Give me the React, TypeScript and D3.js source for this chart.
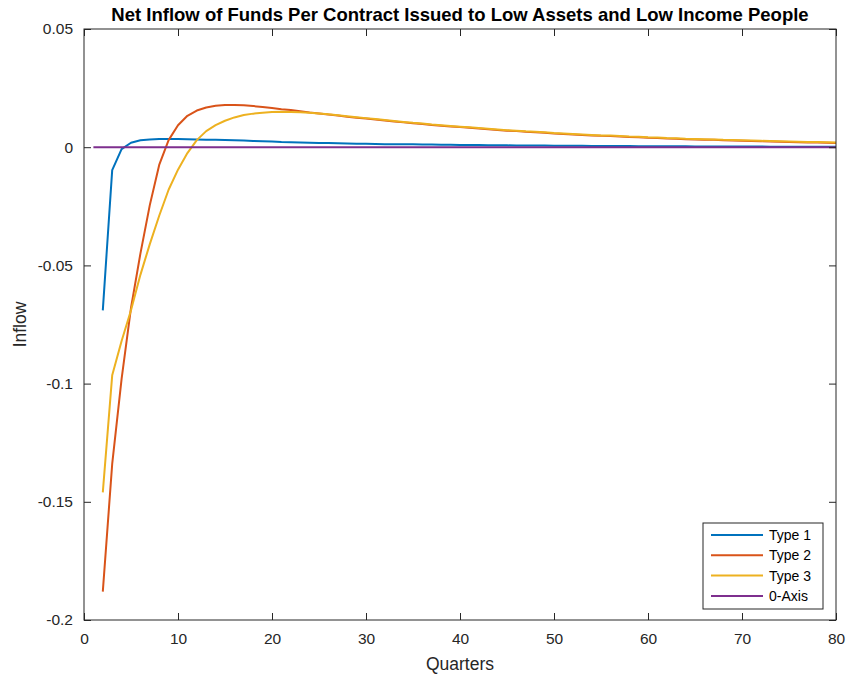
import { useRef, useEffect } from "react";
import * as d3 from "d3";

// quarters 2..80 for the three contract types, the 0-axis runs from 1 to 80
const quarters = d3.range(2, 81);

const type1 = [
  -0.069, -0.0097, -0.0008, 0.0019, 0.0029, 0.0033, 0.0035, 0.0035, 0.0035, 0.0034,
  0.0033, 0.0032, 0.0031, 0.0030, 0.0029, 0.0028, 0.0026, 0.0025, 0.0024, 0.0022,
  0.0021, 0.0020, 0.0019, 0.0018, 0.0018, 0.0017, 0.0016, 0.0015, 0.0015, 0.0014,
  0.0013, 0.0013, 0.0012, 0.0012, 0.0011, 0.0011, 0.0010, 0.0010, 0.0009, 0.0009,
  0.0009, 0.0008, 0.0008, 0.0008, 0.0007, 0.0007, 0.0007, 0.0007, 0.0006, 0.0006,
  0.0006, 0.0006, 0.0005, 0.0005, 0.0005, 0.0005, 0.0005, 0.0004, 0.0004, 0.0004,
  0.0004, 0.0004, 0.0004, 0.0003, 0.0003, 0.0003, 0.0003, 0.0003, 0.0003, 0.0003,
  0.0003, 0.0002, 0.0002, 0.0002, 0.0002, 0.0002, 0.0002, 0.0002, 0.0002,
];

const type2 = [
  -0.188, -0.134, -0.098, -0.068, -0.045, -0.0245, -0.0075, 0.003, 0.0093, 0.0133,
  0.0155, 0.0168, 0.0175, 0.0178, 0.0178, 0.0177, 0.0174, 0.017, 0.0166, 0.0161,
  0.0157, 0.0152, 0.0147, 0.0143, 0.0138, 0.0134, 0.0129, 0.0125, 0.0121, 0.0117,
  0.0113, 0.0109, 0.0105, 0.0101, 0.0098, 0.0094, 0.0091, 0.0088, 0.0085, 0.0082,
  0.0079, 0.0076, 0.0073, 0.007, 0.0068, 0.0065, 0.0063, 0.0061, 0.0058, 0.0056,
  0.0054, 0.0052, 0.005, 0.0048, 0.0047, 0.0045, 0.0043, 0.0042, 0.004, 0.0039,
  0.0037, 0.0036, 0.0034, 0.0033, 0.0032, 0.0031, 0.0029, 0.0028, 0.0027, 0.0026,
  0.0025, 0.0024, 0.0023, 0.0022, 0.0021, 0.002, 0.002, 0.0019, 0.0018,
];

const type3 = [
  -0.146, -0.0965, -0.082, -0.069, -0.054, -0.041, -0.029, -0.018, -0.0095, -0.0025,
  0.003, 0.0068, 0.0093, 0.0112, 0.0126, 0.0136, 0.0142, 0.0146, 0.0149, 0.015,
  0.0149, 0.0148, 0.0146, 0.0143, 0.0139, 0.0135, 0.0131, 0.0127, 0.0123, 0.0119,
  0.0115, 0.0111, 0.0107, 0.0103, 0.01, 0.0096, 0.0093, 0.009, 0.0087, 0.0084,
  0.0081, 0.0078, 0.0075, 0.0072, 0.007, 0.0067, 0.0065, 0.0063, 0.006, 0.0058,
  0.0056, 0.0054, 0.0052, 0.005, 0.0049, 0.0047, 0.0045, 0.0044, 0.0042, 0.0041,
  0.0039, 0.0038, 0.0036, 0.0035, 0.0034, 0.0033, 0.0031, 0.003, 0.0029, 0.0028,
  0.0027, 0.0026, 0.0025, 0.0024, 0.0023, 0.0022, 0.0022, 0.0021, 0.002,
];

const zeroAxisX = [1, 80];
const zeroAxisY = [0, 0];

const seriesNames = ["Type 1", "Type 2", "Type 3", "0-Axis"];
const seriesColors = ["#0072BD", "#D95319", "#EDB120", "#7E2F8E"];

const xTicks = [0, 10, 20, 30, 40, 50, 60, 70, 80];
const yTicks = [-0.2, -0.15, -0.1, -0.05, 0, 0.05];

const title = "Net Inflow of Funds Per Contract Issued to Low Assets and Low Income People";

function App() {
  const width = 847,
    height = 677,
    marginLeft = 84,
    marginRight = 11,
    marginTop = 29,
    marginBottom = 57;

  const gx = useRef(),
    gy = useRef(),
    gxTop = useRef(),
    gyRight = useRef();

  const x = d3.scaleLinear().domain([0, 80]).range([marginLeft, width - marginRight]);
  const y = d3.scaleLinear().domain([-0.2, 0.05]).range([height - marginBottom, marginTop]);

  const line = d3
    .line()
    .x((d) => x(d[0]))
    .y((d) => y(d[1]));

  const series = [
    quarters.map((q, i) => [q, type1[i]]),
    quarters.map((q, i) => [q, type2[i]]),
    quarters.map((q, i) => [q, type3[i]]),
    zeroAxisX.map((q, i) => [q, zeroAxisY[i]]),
  ];

  const axisColor = "#262626";
  const fontFamily = "'Liberation Sans', Arial, sans-serif";
  // plain hyphen minus, like the original
  const tickFmt = (d) => String(+(+d).toFixed(2));

  useEffect(() => {
    const style = (g) => {
      g.select(".domain").remove();
      g.selectAll(".tick line").attr("stroke", axisColor);
      g.selectAll(".tick text")
        .attr("fill", axisColor)
        .attr("font-size", 15.5)
        .attr("font-family", fontFamily);
    };
    d3.select(gx.current)
      .call(d3.axisBottom(x).tickValues(xTicks).tickSize(-7).tickPadding(13).tickFormat(tickFmt))
      .call(style);
    d3.select(gxTop.current)
      .call(d3.axisTop(x).tickValues(xTicks).tickSize(-7).tickFormat(() => ""))
      .call(style);
    d3.select(gy.current)
      .call(d3.axisLeft(y).tickValues(yTicks).tickSize(-7).tickPadding(11).tickFormat(tickFmt))
      .call(style);
    d3.select(gyRight.current)
      .call(d3.axisRight(y).tickValues(yTicks).tickSize(-7).tickFormat(() => ""))
      .call(style);
  });

  const legendX = 703,
    legendY = 523,
    legendW = 120,
    legendH = 86,
    rowH = 20.3;

  return (
    <svg
      width={width}
      height={height}
      style={{ position: "absolute", left: 0, top: 0, background: "#fff" }}
    >
      <rect x={0} y={0} width={width} height={height} fill="#fff" />
      <g fill="none" strokeWidth={2} strokeLinejoin="round">
        {series.map((s, i) => (
          <path key={i} d={line(s)} stroke={seriesColors[i]} />
        ))}
      </g>
      <rect
        x={marginLeft}
        y={marginTop}
        width={width - marginLeft - marginRight}
        height={height - marginTop - marginBottom}
        fill="none"
        stroke={axisColor}
        strokeWidth={1}
      />
      <g ref={gx} transform={`translate(0,${height - marginBottom})`} />
      <g ref={gxTop} transform={`translate(0,${marginTop})`} />
      <g ref={gy} transform={`translate(${marginLeft},0)`} />
      <g ref={gyRight} transform={`translate(${width - marginRight},0)`} />
      <text
        x={(marginLeft + width - marginRight) / 2}
        y={21}
        textAnchor="middle"
        fontWeight="bold"
        fontSize={18.5}
        fontFamily={fontFamily}
        fill="#000"
      >
        {title}
      </text>
      <text
        x={(marginLeft + width - marginRight) / 2}
        y={670}
        textAnchor="middle"
        fontSize={17.5}
        fontFamily={fontFamily}
        fill={axisColor}
      >
        Quarters
      </text>
      <text
        transform={`translate(26,${(marginTop + height - marginBottom) / 2}) rotate(-90)`}
        textAnchor="middle"
        fontSize={17.5}
        fontFamily={fontFamily}
        fill={axisColor}
      >
        Inflow
      </text>
      <g>
        <rect
          x={legendX}
          y={legendY}
          width={legendW}
          height={legendH}
          fill="#fff"
          stroke={axisColor}
          strokeWidth={1}
        />
        {seriesNames.map((name, i) => (
          <g key={name} transform={`translate(${legendX},${legendY + 12 + i * rowH})`}>
            <line x1={8} x2={60} y1={0} y2={0} stroke={seriesColors[i]} strokeWidth={2} />
            <text x={66} y={5} fontSize={14} fontFamily={fontFamily} fill="#000">
              {name}
            </text>
          </g>
        ))}
      </g>
    </svg>
  );
}

export default App;
